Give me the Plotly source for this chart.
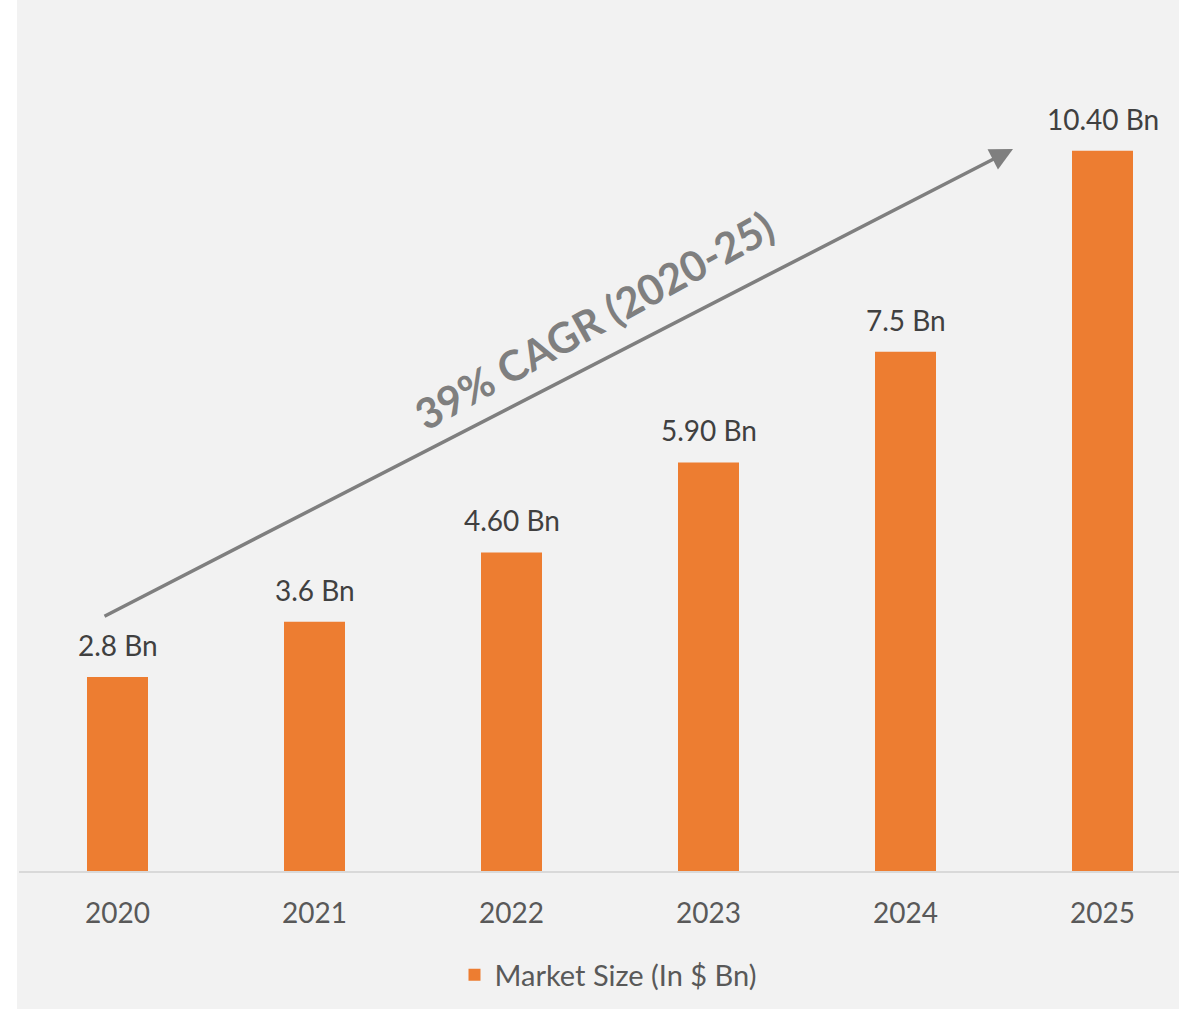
import plotly.graph_objects as go

years = ["2020", "2021", "2022", "2023", "2024", "2025"]
market_size = [2.8, 3.6, 4.6, 5.9, 7.5, 10.4]
value_labels = ["2.8 Bn", "3.6 Bn", "4.60 Bn", "5.90 Bn", "7.5 Bn", "10.40 Bn"]
series_name = "Market Size (In $ Bn)"
cagr_text = "39% CAGR (2020-25)"

W, H = 1179, 1009
L, R, T, B = 19, 0, 40, 138
plot_w = W - L - R
cat_step = 197.0

BAR = "#ed7d31"
BG = "#f2f2f2"
FONT = "Lato, 'Open Sans', sans-serif"

fig = go.Figure()
fig.add_trace(go.Bar(
    x=years, y=market_size, name=series_name,
    marker=dict(color=BAR, line=dict(width=0)),
    showlegend=True,
))

annotations = []
for i, (v, lab) in enumerate(zip(market_size, value_labels)):
    annotations.append(dict(
        x=i, y=v, xref="x", yref="y", text=lab, showarrow=False,
        xanchor="center", yanchor="middle", yshift=32,
        font=dict(family=FONT, size=28, color="#404040"),
    ))

def px_x(p):
    return (p - L) / plot_w

def px_y(p):
    return (H - B - p) / (H - T - B)

# growth arrow
annotations.append(dict(
    x=px_x(1013), y=px_y(149), xref="paper", yref="paper",
    ax=103 - 1013, ay=617 - 149, axref="pixel", ayref="pixel",
    text="", showarrow=True, arrowhead=2, arrowsize=1.3, arrowwidth=3.5,
    arrowcolor="#7f7f7f", standoff=0, startstandoff=0,
))
annotations.append(dict(
    x=px_x(594), y=px_y(320), xref="paper", yref="paper",
    text="<b>" + cagr_text + "</b>", showarrow=False, textangle=-29,
    font=dict(family=FONT, size=42, color="#7f7f7f"),
    xanchor="center", yanchor="middle",
))

fig.update_layout(
    width=W, height=H,
    margin=dict(l=L, r=R, t=T, b=B, pad=0),
    paper_bgcolor=BG, plot_bgcolor=BG,
    bargap=1 - 61 / cat_step,
    font=dict(family=FONT, color="#595959"),
    xaxis=dict(
        type="category", range=[-0.5, -0.5 + plot_w / cat_step],
        showline=True, linecolor="#d9d9d9", linewidth=2,
        ticks="outside", ticklen=16, tickcolor="rgba(0,0,0,0)",
        tickfont=dict(family=FONT, size=28, color="#595959"),
        showgrid=False, zeroline=False, fixedrange=True,
    ),
    yaxis=dict(range=[0, 12], visible=False, showgrid=False, zeroline=False),
    legend=dict(
        orientation="h", x=px_x(608), xanchor="center", y=px_y(975), yanchor="middle",
        font=dict(family=FONT, size=29, color="#595959"), bgcolor="rgba(0,0,0,0)",
    ),
    annotations=annotations,
    shapes=[dict(
        type="rect", xref="paper", yref="paper",
        x0=px_x(-5), x1=px_x(17), y0=-1, y1=2,
        fillcolor="white", line=dict(width=0), layer="above",
    )],
)

fig.write_html("out.html")
